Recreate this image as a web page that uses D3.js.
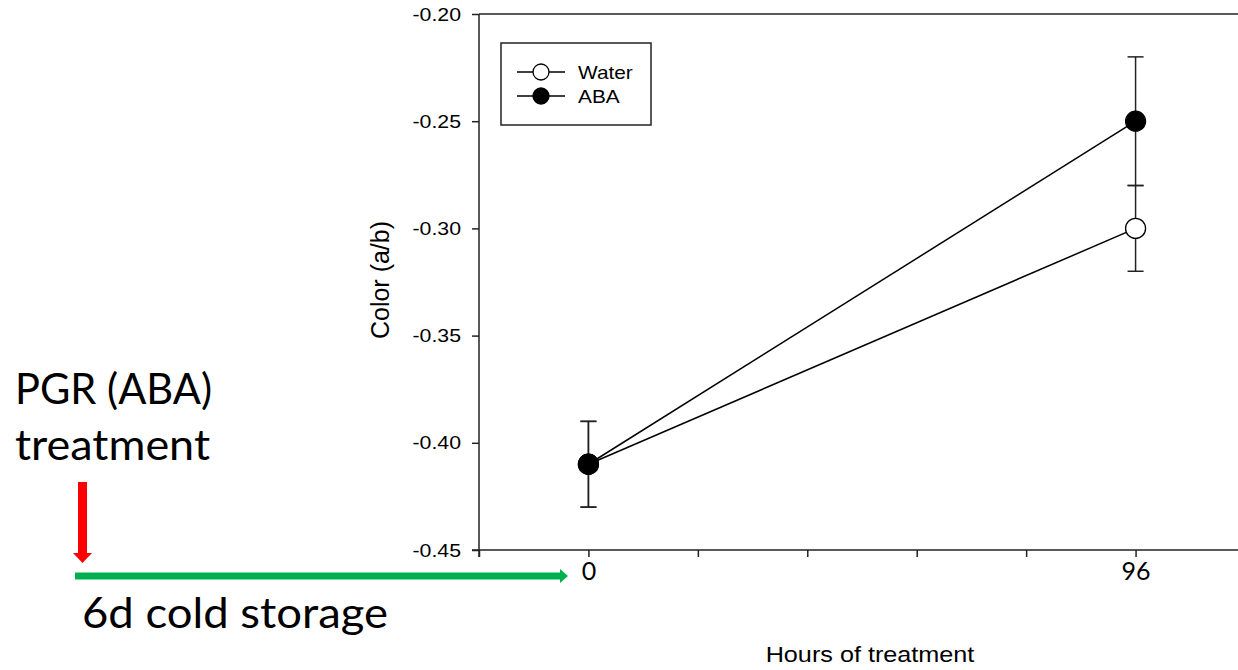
<!DOCTYPE html>
<html>
<head>
<meta charset="utf-8">
<script src="https://cdn.jsdelivr.net/npm/d3@7"></script>
<style>
  body { margin: 0; background: #fff; }
  svg { display: block; }
</style>
</head>
<body>
<svg id="chart" width="1238" height="670" viewBox="0 0 1238 670"></svg>
<script>
// data
const hours = [0, 96];
const waterMean = [-0.41, -0.30];
const waterErr = [0.02, 0.02];
const abaMean = [-0.41, -0.25];
const abaErr = [0.02, 0.03];
const yTicks = [-0.20, -0.25, -0.30, -0.35, -0.40, -0.45];
const yTickLabels = ["-0.20", "-0.25", "-0.30", "-0.35", "-0.40", "-0.45"];
const xTicks = [-19.2, 0, 19.2, 38.4, 57.6, 76.8, 96, 115.2];
const xTickLabels = {0: "0", 96: "96"};

let svg = d3.select("#chart")
let plotLeft = 479, plotTop = 14, plotBottom = 550
let arial = "Liberation Sans, Arial, sans-serif"

// the source picture is a bit wider than tall, widen the text to match
function widen(sel, k) {
    sel.each(function () {
        let w = this.getComputedTextLength()
        d3.select(this).attr("textLength", w * k).attr("lengthAdjust", "spacingAndGlyphs")
    })
}

let x = d3.scaleLinear().domain([-19.2, 115.2]).range([plotLeft, plotLeft + 766])
let y = d3.scaleLinear().domain([-0.45, -0.20]).range([plotBottom, plotTop])

// frame top line
svg.append("line")
    .attr("x1", plotLeft).attr("x2", 1240)
    .attr("y1", plotTop).attr("y2", plotTop)
    .attr("stroke", "#222").attr("stroke-width", 1.5)

// y axis
let yAxis = svg.append("g")
    .attr("transform", `translate(${plotLeft},0)`)
    .call(d3.axisLeft(y).tickValues(yTicks).tickSize(7).tickSizeOuter(0)
        .tickFormat((d, i) => yTickLabels[i]))
yAxis.select(".domain").attr("stroke", "#222").attr("stroke-width", 1.5)
    .attr("d", `M0,${plotTop}V${plotBottom + 7}`)
yAxis.selectAll(".tick line").attr("stroke", "#222").attr("stroke-width", 1.5)
yAxis.selectAll("text")
    .attr("font-family", arial)
    .attr("font-size", 19).attr("fill", "#000").attr("x", -18)
    .call(widen, 1.12)

// x axis
let xAxis = svg.append("g")
    .attr("transform", `translate(0,${plotBottom})`)
    .call(d3.axisBottom(x).tickValues(xTicks).tickSize(7).tickSizeOuter(0)
        .tickFormat(d => xTickLabels[d] || ""))
xAxis.select(".domain").attr("stroke", "#222").attr("stroke-width", 1.5)
    .attr("d", `M${plotLeft - 7},0H1240`)
xAxis.selectAll(".tick line").attr("stroke", "#222").attr("stroke-width", 1.5)
xAxis.selectAll("text")
    .attr("font-family", "Lato, 'Open Sans', sans-serif")
    .attr("font-size", 25).attr("fill", "#000").attr("y", 12)

// axis titles
svg.append("text")
    .attr("transform", "translate(389,280) rotate(-90)")
    .attr("text-anchor", "middle")
    .attr("font-family", arial)
    .attr("font-size", 25)
    .text("Color (a/b)")

svg.append("text")
    .attr("x", 870).attr("y", 662)
    .attr("text-anchor", "middle")
    .attr("font-family", arial)
    .attr("font-size", 22.5)
    .text("Hours of treatment")
    .call(widen, 1.12)

// series
let series = [
    {name: "Water", mean: waterMean, err: waterErr, fill: "#fff"},
    {name: "ABA", mean: abaMean, err: abaErr, fill: "#000"}
]

let line = d3.line()
    .x(d => x(d.h))
    .y(d => y(d.m))

series.forEach(function (s) {
    let pts = hours.map((h, i) => ({h: h, m: s.mean[i], e: s.err[i]}))
    svg.append("path")
        .attr("d", line(pts))
        .attr("fill", "none").attr("stroke", "#000").attr("stroke-width", 1.5)
    let eb = svg.append("g").selectAll("g").data(pts).enter().append("g")
    eb.append("line")
        .attr("x1", d => x(d.h)).attr("x2", d => x(d.h))
        .attr("y1", d => y(d.m + d.e)).attr("y2", d => y(d.m - d.e))
        .attr("stroke", "#222").attr("stroke-width", 1.5)
    eb.append("line")
        .attr("x1", d => x(d.h) - 8).attr("x2", d => x(d.h) + 8)
        .attr("y1", d => y(d.m + d.e)).attr("y2", d => y(d.m + d.e))
        .attr("stroke", "#222").attr("stroke-width", 1.5)
    eb.append("line")
        .attr("x1", d => x(d.h) - 8).attr("x2", d => x(d.h) + 8)
        .attr("y1", d => y(d.m - d.e)).attr("y2", d => y(d.m - d.e))
        .attr("stroke", "#222").attr("stroke-width", 1.5)
})

series.forEach(function (s) {
    let pts = hours.map((h, i) => ({h: h, m: s.mean[i]}))
    svg.append("g").selectAll("circle").data(pts).enter().append("circle")
        .attr("cx", d => x(d.h)).attr("cy", d => y(d.m))
        .attr("r", 10)
        .attr("fill", s.fill).attr("stroke", "#000").attr("stroke-width", 1.3)
})

// legend
let legend = svg.append("g")
legend.append("rect")
    .attr("x", 501).attr("y", 43).attr("width", 150).attr("height", 82)
    .attr("fill", "#fff").attr("stroke", "#222").attr("stroke-width", 1.5)
let items = legend.selectAll(".item").data(series).enter().append("g")
    .attr("transform", (d, i) => `translate(517,${72 + i * 24})`)
items.append("line").attr("x1", 0).attr("x2", 48)
    .attr("stroke", "#000").attr("stroke-width", 1.3)
items.append("circle").attr("cx", 24).attr("r", 8)
    .attr("fill", d => d.fill).attr("stroke", "#000").attr("stroke-width", 1.3)
items.append("text").attr("x", 61).attr("y", 7)
    .attr("font-family", arial)
    .attr("font-size", 18.6)
    .text(d => d.name)
    .call(widen, 1.12)

// annotations
let big = "Lato, 'Open Sans', sans-serif"
svg.append("text").attr("x", 15).attr("y", 404)
    .attr("font-family", big).attr("font-size", 42)
    .attr("textLength", 197).attr("lengthAdjust", "spacingAndGlyphs")
    .text("PGR (ABA)")
svg.append("text").attr("x", 15).attr("y", 460)
    .attr("font-family", big).attr("font-size", 42)
    .attr("textLength", 195).attr("lengthAdjust", "spacingAndGlyphs")
    .text("treatment")
svg.append("text").attr("x", 82).attr("y", 628)
    .attr("font-family", big).attr("font-size", 42)
    .attr("textLength", 306).attr("lengthAdjust", "spacingAndGlyphs")
    .text("6d cold storage")

// red arrow
svg.append("path")
    .attr("d", "M78,482H87V553H92L82.5,563L73,553H78Z")
    .attr("fill", "#ff0000")
// green arrow
svg.append("path")
    .attr("d", "M75,572.5H560V569L568,576L560,583V579.5H75Z")
    .attr("fill", "#00b050")
</script>
</body>
</html>
